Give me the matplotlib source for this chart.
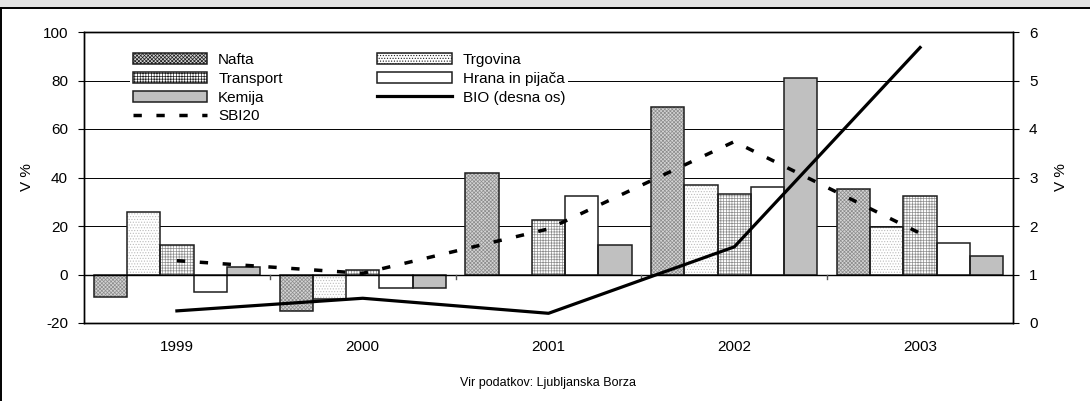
import numpy as np
import matplotlib
matplotlib.use("Agg")
import matplotlib.pyplot as plt
from matplotlib.patches import Rectangle
from matplotlib.lines import Line2D

plt.rcParams['font.family'] = ['Liberation Sans', 'DejaVu Sans']
plt.rcParams['hatch.linewidth'] = 0.5
plt.rcParams['axes.unicode_minus'] = False

# data
years = ['1999', '2000', '2001', '2002', '2003']
nafta = [-9.2, -14.9, 41.7, 69.1, 35.3]
trgovina = [25.9, -10.1, 0.0, 36.8, 19.7]
transport = [12.3, 1.9, 22.3, 33.2, 32.5]
hrana = [-7.2, -5.7, 32.5, 36.0, 13.1]
kemija = [3.1, -5.7, 12.3, 81.2, 7.8]
sbi20 = [5.7, 0.5, 18.8, 54.8, 17.0]
bio = [0.25, 0.51, 0.20, 1.57, 5.68]   # desna os

series = [nafta, trgovina, transport, hrana, kemija]
names = ['Nafta', 'Trgovina', 'Transport', 'Hrana in pijača', 'Kemija']

# fill, hatch, hatch colour per series
fills = ['#d4d4d4', 'white', 'white', 'white', '#c0c0c0']
hatches = ['xxxxxxxxx', '......', '++++++', None, None]
hcols = ['#8c8c8c', '#bcbcbc', '#8e8e8e', 'white', '#c0c0c0']
edge = '#1e1e1e'
fs = 11

fig = plt.figure(figsize=(10.9, 4.01), dpi=100)
ax = fig.add_axes([84/1090, 78/401, 929/1090, 291/401])
ax2 = ax.twinx()

x = np.arange(len(years))
w = 0.179
for k, vals in enumerate(series):
    pos = x + (k - 2) * w
    ax.bar(pos, vals, w, color=fills[k], edgecolor=hcols[k], hatch=hatches[k],
           linewidth=0, zorder=2)
    ax.bar(pos, vals, w, fill=False, edgecolor=edge, linewidth=1.1, zorder=3)

ax.plot(x, sbi20, color='black', lw=2.5, linestyle=(0, (2.4, 4.2)), zorder=5)
ax2.plot(x, bio, color='black', lw=2.3, zorder=5)

ax.set_xlim(-0.5, len(years) - 0.5)
ax.set_ylim(-20, 100)
ax.set_yticks(np.arange(-20, 101, 20))
ax2.set_ylim(0, 6)
ax2.set_yticks(np.arange(0, 7, 1))

ax.yaxis.grid(True, color='black', lw=0.7, zorder=0)
ax.set_axisbelow(True)
ax.axhline(0, color='black', lw=1.0, zorder=4)
# category tick marks on the zero line
for b in x[1:] - 0.5:
    ax.plot([b, b], [0, -1.8], color='#555555', lw=1.0, zorder=4, clip_on=False)

ax.set_xticks(x)
ax.set_xticklabels(years, fontsize=fs)
ax.tick_params(axis='x', length=0, pad=12)
ax.tick_params(axis='y', labelsize=fs, length=4.5, pad=7, width=0.8)
ax2.tick_params(axis='y', labelsize=fs, length=4.5, pad=7, width=0.8)
for a in (ax, ax2):
    for s in a.spines.values():
        s.set_linewidth(1.0)
        s.set_color('black')

ax.set_ylabel('V %', fontsize=fs, labelpad=6)
ax2.set_ylabel('V %', fontsize=fs, labelpad=12)

handles = []
for k in [0, 2, 4]:
    handles.append(Rectangle((0, 0), 1, 1, facecolor=fills[k], edgecolor=hcols[k],
                             hatch=hatches[k], linewidth=0))
handles.append(Line2D([], [], color='black', lw=2.5, linestyle=(0, (2.4, 4.2))))
for k in [1, 3]:
    handles.append(Rectangle((0, 0), 1, 1, facecolor=fills[k], edgecolor=hcols[k],
                             hatch=hatches[k], linewidth=0))
handles.append(Line2D([], [], color='black', lw=2.3))
labels = ['Nafta', 'Transport', 'Kemija', 'SBI20', 'Trgovina', 'Hrana in pijača',
          'BIO (desna os)']
leg = ax2.legend(handles, labels, ncol=2, loc='upper left',
                 bbox_to_anchor=(0.049, 0.939), borderaxespad=0, fontsize=11,
                 frameon=True, fancybox=False, edgecolor='none', facecolor='white',
                 framealpha=1, handlelength=4.9, handleheight=0.7,
                 handletextpad=0.7, columnspacing=6.2, labelspacing=0.32,
                 borderpad=0.2)
for p in leg.get_patches():
    p.set_edgecolor(edge)
    p.set_linewidth(1.1)

fig.text(548/1090, 18/401, 'Vir podatkov: Ljubljanska Borza', fontsize=9,
         ha='center', va='center')

# grey title band and frame line at the top, border on the left
fig.patches.append(Rectangle((0, 394/401), 1, 7/401, transform=fig.transFigure,
                             facecolor='#e4e4e4', edgecolor='none'))
fig.lines.append(Line2D([0, 1], [393.5/401, 393.5/401], transform=fig.transFigure,
                        color='black', lw=1.4))
fig.lines.append(Line2D([0.5/1090, 0.5/1090], [0, 393.5/401],
                        transform=fig.transFigure, color='black', lw=1.4))

fig.savefig('out.png', dpi=100)
